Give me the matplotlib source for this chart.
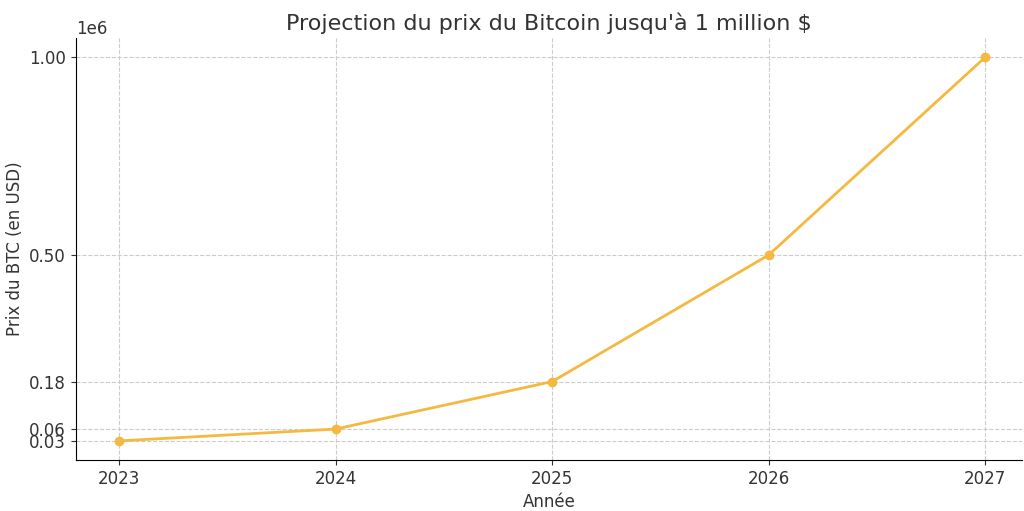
import matplotlib.pyplot as plt

years = [2023, 2024, 2025, 2026, 2027]
prices = [30000, 60000, 180000, 500000, 1000000]

fig, ax = plt.subplots(figsize=(10.24, 5.11), dpi=100)
ax.plot(years, prices, color="#F5B841", marker="o", markersize=6, linewidth=2)

ax.set_title("Projection du prix du Bitcoin jusqu'à 1 million $", fontsize=16, color="#333333")
ax.set_xlabel("Année", fontsize=12, color="#333333")
ax.set_ylabel("Prix du BTC (en USD)", fontsize=12, color="#333333")
ax.set_xticks(years)
ax.set_yticks(prices)
ax.tick_params(labelsize=12, colors="#333333")
ax.yaxis.get_offset_text().set_fontsize(12)
ax.grid(True, linestyle="--", color="#cccccc", linewidth=0.8)
ax.spines["top"].set_visible(False)
ax.spines["right"].set_visible(False)
ax.set_xlim(2022.8, 2027.17)
ax.set_ylim(-18000, 1048000)

plt.subplots_adjust(left=0.074, right=0.998, top=0.925, bottom=0.10)
plt.savefig("out.png")
